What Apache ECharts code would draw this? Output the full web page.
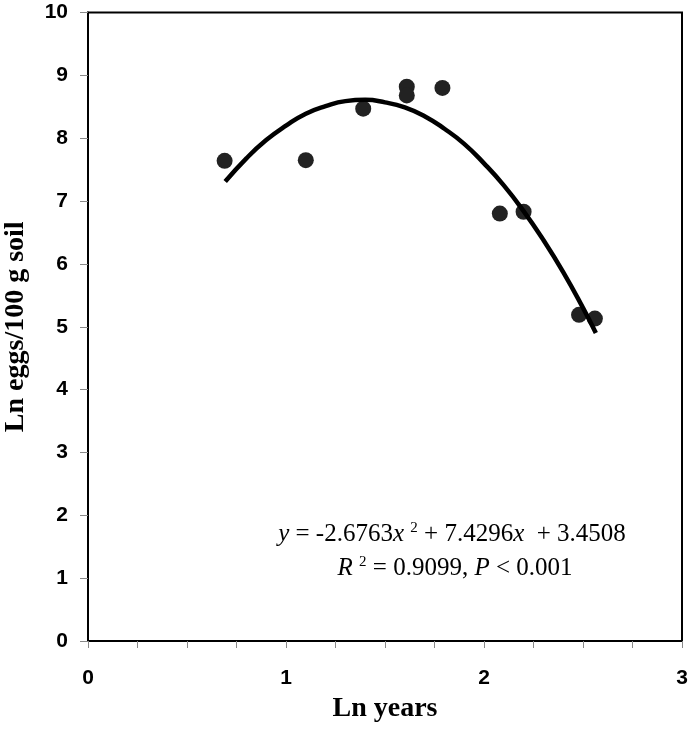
<!DOCTYPE html>
<html>
<head>
<meta charset="utf-8">
<script src="https://cdn.jsdelivr.net/npm/echarts@6/dist/echarts.min.js"></script>
<style>
html,body{margin:0;padding:0;background:#fff;}
#chart{width:690px;height:734px;}
</style>
</head>
<body>
<div id="chart"></div>
<script>
// Observed points: x = Ln years, y = Ln eggs/100 g soil
var obsX = [0.69, 1.10, 1.39, 1.61, 1.61, 1.79, 2.08, 2.20, 2.48, 2.56];
var obsY = [7.64, 7.65, 8.47, 8.82, 8.68, 8.80, 6.80, 6.83, 5.19, 5.13];

// Fitted quadratic trendline
var curveX = [0.693, 0.8, 0.9, 1.0, 1.1, 1.2, 1.3, 1.4, 1.5, 1.6, 1.7, 1.8, 1.9, 2.0, 2.1, 2.2, 2.3, 2.4, 2.5, 2.565];
var curveY = [7.31, 7.68, 7.97, 8.20, 8.39, 8.51, 8.59, 8.61, 8.57, 8.49, 8.35, 8.15, 7.91, 7.60, 7.25, 6.84, 6.38, 5.87, 5.30, 4.90];

var xTickLabels = ['0', '1', '2', '3'];
var yTickLabels = ['0','1','2','3','4','5','6','7','8','9','10'];

var eqLine1 = '{i|y} = -2.6763{i|x} {sup|2} + 7.4296{i|x}  + 3.4508';
var eqLine2 = '{i|R} {sup|2} = 0.9099, {i|P} < 0.001';

var scatterData = obsX.map(function (x, i) { return [x, obsY[i]]; });
var curveData = curveX.map(function (x, i) { return [x, curveY[i]]; });

var chart = echarts.init(document.getElementById('chart'), null, {renderer: 'canvas'});

var richStyle = {
  i: {fontFamily: 'Liberation Serif', fontStyle: 'italic', fontSize: 25, color: '#000'},
  sup: {fontFamily: 'Liberation Serif', fontSize: 15, color: '#000', verticalAlign: 'top', padding: [0, 0, 12, 0]}
};

chart.setOption({
  backgroundColor: '#fff',
  animation: false,
  grid: {
    left: 88, right: 8, top: 12.5, bottom: 93,
    outerBoundsMode: 'none', containLabel: false,
    show: true, borderColor: '#000', borderWidth: 2, backgroundColor: 'transparent'
  },
  xAxis: {
    type: 'value', min: 0, max: 3, interval: 0.25,
    name: 'Ln years', nameLocation: 'middle', nameGap: 54,
    nameTextStyle: {fontFamily: 'Liberation Serif', fontWeight: 'bold', fontSize: 28, color: '#000'},
    axisLine: {lineStyle: {color: '#000', width: 2}},
    axisTick: {show: true, inside: false, length: 7, lineStyle: {color: '#888', width: 1}},
    splitLine: {show: false},
    axisLabel: {
      margin: 27, fontFamily: 'Liberation Sans', fontWeight: 'bold', fontSize: 21, color: '#000',
      formatter: function (v) {
        var idx = xTickLabels.indexOf(String(v));
        return Math.abs(v - Math.round(v)) < 1e-9 && idx >= 0 ? xTickLabels[idx] : '';
      }
    }
  },
  yAxis: {
    type: 'value', min: 0, max: 10, interval: 1,
    name: 'Ln eggs/100 g soil', nameLocation: 'middle', nameGap: 58, nameRotate: 90,
    nameTextStyle: {fontFamily: 'Liberation Serif', fontWeight: 'bold', fontSize: 28, color: '#000'},
    axisLine: {show: true, lineStyle: {color: '#000', width: 2}},
    axisTick: {show: true, inside: false, length: 8, lineStyle: {color: '#888', width: 1}},
    splitLine: {show: false},
    axisLabel: {
      margin: 20, fontFamily: 'Liberation Sans', fontWeight: 'bold', fontSize: 21, color: '#000',
      formatter: function (v) { return yTickLabels[Math.round(v)] || ''; }
    }
  },
  series: [
    {
      type: 'scatter', data: scatterData, symbol: 'circle', symbolSize: 16,
      itemStyle: {color: '#222', opacity: 1}, z: 2
    },
    {
      type: 'line', data: curveData, smooth: true, showSymbol: false, symbol: 'none',
      lineStyle: {color: '#000', width: 4.5}, z: 3
    }
  ],
  graphic: [
    {
      type: 'text', z: 10,
      style: {x: 452, y: 534, text: eqLine1, font: '25px "Liberation Serif"', fill: '#000',
              align: 'center', verticalAlign: 'middle', rich: richStyle}
    },
    {
      type: 'text', z: 10,
      style: {x: 455, y: 568, text: eqLine2, font: '25px "Liberation Serif"', fill: '#000',
              align: 'center', verticalAlign: 'middle', rich: richStyle}
    }
  ]
});
</script>
</body>
</html>
